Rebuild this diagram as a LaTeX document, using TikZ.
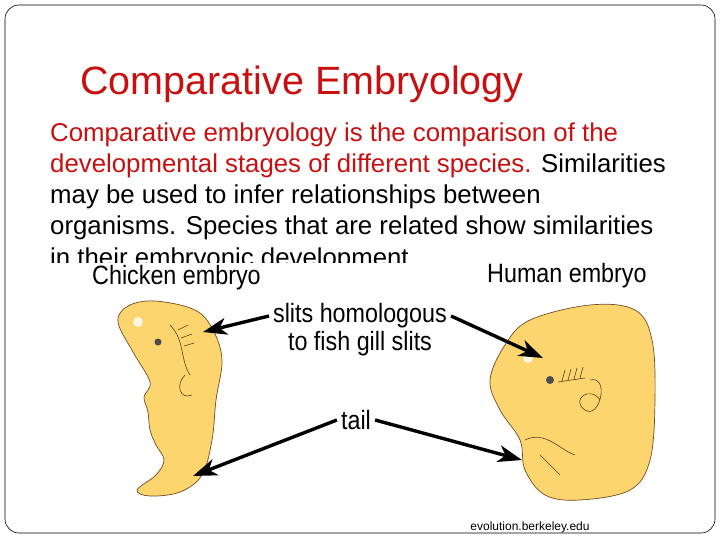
\documentclass[tikz,border=0pt]{standalone}
\usepackage{fontspec}
\setmainfont{Liberation Sans}
\usetikzlibrary{arrows.meta}
\begin{document}
\begin{tikzpicture}[x=1pt,y=-1pt,
  body/.style={anchor=base west,font=\fontsize{25.8}{26}\selectfont,inner sep=0},
  lab/.style={font=\fontsize{26.5}{26}\selectfont\addfontfeatures{FakeStretch=0.88},inner sep=0},
  emb/.style={fill=yellow!45!orange!55!white,draw=brown!60!black,line width=0.7pt},
  arr/.style={-{Stealth[length=24pt,width=17pt,inset=7pt]},line width=3.4pt}]
\useasboundingbox (0,0) rectangle (720,540);
\definecolor{dr}{RGB}{200,16,16}
\draw[rounded corners=14pt,line width=0.6pt] (5,5) rectangle (715,533);
\node[anchor=base west,text=dr,font=\fontsize{39.5}{40}\selectfont,inner sep=0] (title) at (80,95) {Comparative Embryology};
\node[body,text=dr] (l1) at (50,142) {Comparative embryology is the comparison of the};
\node[body] (l2) at (50,173) {\textcolor{dr}{developmental stages of different species.} Similarities};
\node[body] (l3) at (50,204) {may be used to infer relationships between};
\node[body] (l4) at (50,235) {organisms. Species that are related show similarities};
\begin{scope}
\clip (40,240) rectangle (700,262);
\node[body] (l5) at (50,266) {in their embryonic development};
\end{scope}
\node[lab,anchor=base west] (ce) at (92,284) {Chicken embryo};
\node[lab,anchor=base west] (he) at (487,282) {Human embryo};
% chicken
\draw[emb] plot[smooth cycle,tension=0.6] coordinates{(128,306)(155,301)(195,310)(213,330)(222,360)(216,400)(212,440)(202,475)(180,492)(150,496)(137,490)(156,475)(164,460)(156,445)(150,430)(148,412)(144,397)(150,382)(133,352)(118,322)};
\fill[white,opacity=0.8] (138,322) circle (5);
\fill[black!70] (158,342) circle (3.5);
\draw[brown!50!black,line width=0.6pt] (170,325) .. controls (185,340) and (180,360) .. (190,375) (178,330)--(188,325) (181,338)--(192,334) (184,346)--(194,343) (185,375) .. controls (175,385) and (180,400) .. (192,395);
% human
\draw[emb] plot[smooth cycle,tension=0.6] coordinates{(505,345)(530,320)(590,305)(635,310)(652,340)(655,400)(650,460)(630,490)(580,500)(545,495)(525,470)(520,440)(500,410)(490,380)};
\fill[white,opacity=0.8] (528,358) circle (5);
\fill[black!70] (550,380) circle (4);
\draw[brown!50!black,line width=0.6pt] (558,382)--(585,378) (562,381)--(565,370) (568,380)--(571,369) (574,379)--(577,368) (580,378)--(583,367)
 (590,380) .. controls (610,375) and (600,420) .. (585,410) .. controls (570,400) and (590,385) .. (600,400)
 (525,440) .. controls (545,430) and (560,450) .. (575,455) (540,455)--(560,475);
% labels and arrows
\node[lab] (slits) at (360,316) {slits homologous};
\node[lab] (fish) at (360,344) {to fish gill slits};
\node[lab] (tail) at (356,420) {tail};
\coordinate (c1) at (203,332); \coordinate (h1) at (543,358);
\coordinate (c2) at (193,476); \coordinate (h2) at (522,460);
\draw[arr] ([xshift=-4pt]slits.west) -- (c1);
\draw[arr] ([xshift=4pt]slits.east) -- (h1);
\draw[arr] ([xshift=-4pt]tail.west) -- (c2);
\draw[arr] ([xshift=4pt]tail.east) -- (h2);
\node[font=\fontsize{12}{12}\selectfont,inner sep=0] (src) at (530,527) {evolution.berkeley.edu};
\end{tikzpicture}
\end{document}
